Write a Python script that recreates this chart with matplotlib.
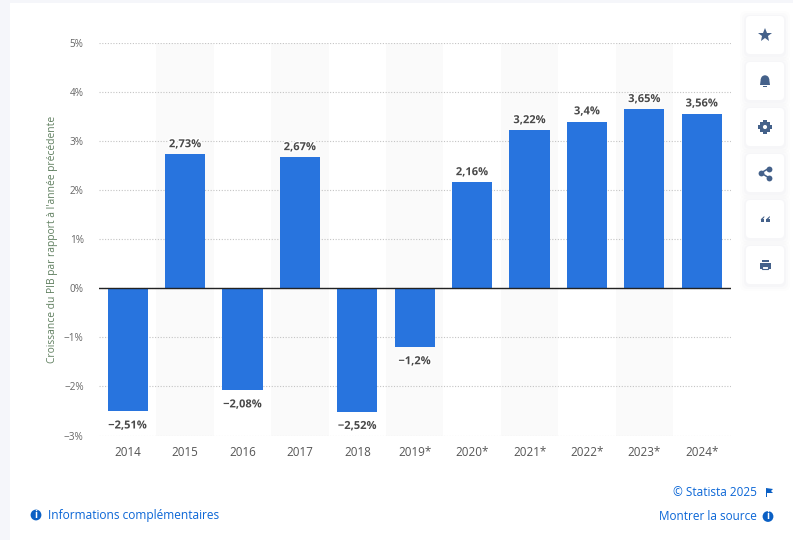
import matplotlib
matplotlib.use("Agg")
import matplotlib.pyplot as plt
import matplotlib.patheffects as pe
from matplotlib.patches import FancyBboxPatch, Rectangle, Circle, Polygon, Wedge
import math

plt.rcParams['font.family'] = ['Open Sans', 'DejaVu Sans']

years = ['2014', '2015', '2016', '2017', '2018', '2019*', '2020*', '2021*', '2022*', '2023*', '2024*']
values = [-2.51, 2.73, -2.08, 2.67, -2.52, -1.2, 2.16, 3.22, 3.4, 3.65, 3.56]
labels = ['−2,51%', '2,73%', '−2,08%', '2,67%', '−2,52%', '−1,2%', '2,16%', '3,22%', '3,4%', '3,65%', '3,56%']
yticks = [-3, -2, -1, 0, 1, 2, 3, 4, 5]
yticklabels = ['−3%', '−2%', '−1%', '0%', '1%', '2%', '3%', '4%', '5%']
ylabel = "Croissance du PIB par rapport à l'année précédente"

W, H = 793, 540
fig = plt.figure(figsize=(W/100, H/100), dpi=100, facecolor='#f5f6fa')

bg = fig.add_axes([0, 0, 1, 1], zorder=0)
bg.set_xlim(0, W); bg.set_ylim(H, 0); bg.axis('off')
bg.add_patch(Rectangle((10, 3), W-10, H-3, fc='white', ec='none'))

L, R, T, B = 99, 730.5, 43, 435.5
ax = fig.add_axes([L/W, 1-B/H, (R-L)/W, (B-T)/H], zorder=1)
ax.patch.set_alpha(0)
ax.set_xlim(-0.5, len(years)-0.5)
ax.set_ylim(-3, 5)
for i in range(1, len(years), 2):
    ax.axvspan(i-0.5, i+0.5, color='#fafafa', lw=0, zorder=0)
ax.set_yticks(yticks)
ax.set_yticklabels(yticklabels, fontsize=7.2, color='#666666')
ax.set_xticks(range(len(years)))
ax.set_xticklabels(years, fontsize=8.4, color='#555555')
ax.tick_params(axis='both', length=0)
ax.tick_params(axis='y', pad=11)
ax.tick_params(axis='x', pad=7.5)
for s in ax.spines.values():
    s.set_visible(False)
ax.grid(axis='y', color='#c4c4c4', lw=0.8, ls=(0, (1, 1.5)), zorder=1)
ax.set_axisbelow(True)
ax.bar(range(len(years)), values, width=0.7, color='#2874de', zorder=2)
ax.axhline(0, color='#222222', lw=1, zorder=3)
for i, (v, t) in enumerate(zip(values, labels)):
    ax.annotate(t, (i, v), xytext=(0, 3 if v >= 0 else -6.5), textcoords='offset points',
                ha='center', va='bottom' if v >= 0 else 'top', fontsize=8, fontweight='bold',
                color='#4a4a4a', zorder=4,
                path_effects=[pe.withStroke(linewidth=2, foreground='white')])
fig.text(52.5/W, 1-239/H, ylabel, rotation=90, ha='center', va='center', fontsize=7.4, color='#5f7f5f')

ov = fig.add_axes([0, 0, 1, 1], zorder=2)
ov.set_xlim(0, W); ov.set_ylim(H, 0); ov.axis('off'); ov.patch.set_alpha(0)
ic = '#44618a'
for cy in [35, 81, 127, 173, 219, 265]:
    for g, a in [(6, 0.008), (4, 0.012), (2, 0.018)]:
        ov.add_patch(FancyBboxPatch((746-g, cy-19-g+1), 38+2*g, 38+2*g, boxstyle='round,pad=0,rounding_size=6',
                                    fc='#3a4a6a', ec='none', alpha=a))
    ov.add_patch(FancyBboxPatch((746, cy-19), 38, 38, boxstyle='round,pad=0,rounding_size=4', fc='white', ec='none'))
# star
ov.plot([765], [35], marker='*', ms=10, color=ic, mew=0)
# bell
ov.add_patch(Wedge((765, 79.5), 4.2, 180, 360, fc=ic, ec='none'))
ov.add_patch(Polygon([(760.8, 79), (769.2, 79), (770, 85), (760, 85)], fc=ic, ec='none'))
ov.add_patch(Rectangle((763, 86), 4, 0.9, fc=ic, ec='none'))
# gear
for k in range(8):
    a = math.pi/4*k
    ov.plot([765+4.8*math.cos(a)], [127+4.8*math.sin(a)], marker='s', ms=2.4, color=ic, mew=0, zorder=3)
ov.add_patch(Circle((765, 127), 3.4, fc='white', ec=ic, lw=1.9, zorder=4))
# share
ov.plot([768.5, 761, 768.5], [168.5, 173, 177.5], color=ic, lw=1.1, marker='o', ms=4.2, mew=0)
# quote
for x in (760.5, 766):
    ov.add_patch(Rectangle((x, 219), 3.8, 3.4, fc=ic, ec='none'))
    ov.add_patch(Polygon([(x, 219.5), (x+3.8, 216), (x+3.8, 217.3), (x+2, 219.5)], fc=ic, ec='none'))
# print
ov.add_patch(Rectangle((759.5, 262.5), 11, 6, fc=ic, ec='none'))
ov.add_patch(Rectangle((761.5, 259.5), 7, 2.6, fc=ic, ec='none'))
ov.add_patch(Rectangle((762, 266), 6, 3, fc='white', ec=ic, lw=0.8))

blue = '#0b66d6'
def info(x, y):
    ov.add_patch(Circle((x, y), 5.4, fc='#0a5fc4', ec='none'))
    ov.text(x, y+0.2, 'i', color='white', fontsize=7, fontweight='bold', ha='center', va='center')
info(36, 515)
ov.text(47.5, 515, 'Informations complémentaires', fontsize=8.6, color=blue, ha='left', va='center')
ov.text(757, 492.5, '© Statista 2025', fontsize=8.5, color=blue, ha='right', va='center')
ov.add_patch(Polygon([(766, 488), (773, 489), (771, 491), (773, 493), (767, 493), (767, 497), (766, 497)], fc='#0a5fc4', ec='none'))
ov.text(757, 516.5, 'Montrer la source', fontsize=8.5, color=blue, ha='right', va='center')
info(768, 516.5)

fig.savefig('out.png', dpi=100, facecolor=fig.get_facecolor())
